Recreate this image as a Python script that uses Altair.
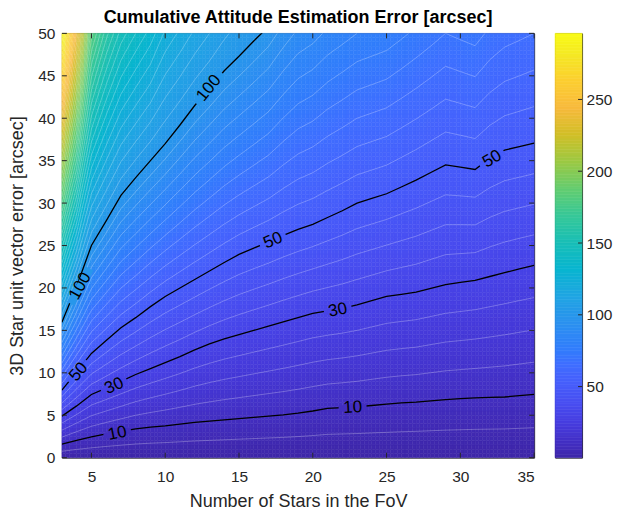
import altair as alt
import numpy as np
import pandas as pd

alt.data_transformers.disable_max_rows()

TITLE = "Cumulative Attitude Estimation Error [arcsec]"

# star counts on the x grid
N_STARS = list(range(3, 36))

# height (arcsec of vector error) of each black contour, read at every star count
Y10 = [1.6, 2.05, 2.45, 2.8, 3.1, 3.4, 3.6, 3.75, 3.95, 4.15, 4.3, 4.45, 4.6, 4.75, 4.9, 5.05, 5.25,
       5.5, 5.8, 5.9, 6.0, 6.15, 6.3, 6.45, 6.55, 6.7, 6.85, 6.95, 7.05, 7.1, 7.15, 7.3, 7.45]
Y30 = [4.9, 6.1, 7.45, 8.2, 9.0, 9.8, 10.5, 11.2, 11.9, 12.7, 13.4, 14.0, 14.5, 15.0, 15.5, 16.0, 16.5,
       17.0, 17.3, 17.6, 18.0, 18.5, 19.0, 19.25, 19.5, 19.95, 20.4, 20.65, 20.9, 21.35, 21.8, 22.25, 22.67]
Y50 = [7.96, 10.1, 12.28, 13.8, 15.3, 16.5, 17.8, 19.0, 20.0, 21.0, 22.0, 23.0, 23.95, 24.7, 25.4, 26.2, 26.9,
       27.5, 28.3, 29.1, 30.0, 30.55, 31.1, 31.9, 32.7, 33.6, 34.5, 34.25, 33.96, 35.3, 36.25, 36.65, 37.06]
Y100 = [15.96, 20.2, 25.0, 27.9, 30.9, 33.0, 35.0, 37.0, 39.2, 41.5, 43.5, 45.6, 47.3, 49.1, 50.8] + [None] * 18
# attitude error at the top edge (50 arcsec)
TOP_ERR = [296, 240, 182, 162, 148, 140, 133, 124, 119, 114, 110, 106, 103, 101, 98, 93, 89,
           87, 84, 82, 80, 79, 78, 76, 74, 72, 70, 71, 72, 69, 67, 66, 65]

# inline contour labels
LABEL_TEXT = ["10", "10", "30", "30", "50", "50", "50", "100", "100"]
LABEL_LEVEL = [10, 10, 30, 30, 50, 50, 50, 100, 100]
LABEL_N = [6.76, 22.7, 6.54, 21.7, 4.13, 17.3, 32.15, 4.24, 12.96]
LABEL_Y = [2.87, 5.9, 8.46, 17.4, 10.1, 25.6, 35.2, 20.2, 43.55]
LABEL_ANGLE = [349, 357, 336, 349, 311, 337, 330, 299, 309]

X_TICKS = [5, 10, 15, 20, 25, 30, 35]
Y_TICKS = list(range(0, 51, 5))
CB_TICKS = [50, 100, 150, 200, 250]

VMIN, VMAX = 0.5, 296.0

# parula (MATLAB) stops, index out of 64
PARULA_IDX = [0, 2, 4, 6, 8, 10, 12, 14, 16, 18, 20, 22, 24, 28, 32, 36, 40, 44, 48, 52, 56, 60, 63]
PARULA = ["#3e26a8", "#422ec0", "#4537d5", "#4741e5", "#484df0", "#4758f8", "#4563fd", "#3e6fff",
          "#327cfc", "#2e87f7", "#2b91ef", "#259be8", "#20a5e3", "#08b5d0", "#19bfb6", "#37c897",
          "#64cd6f", "#9dc943", "#d1bf27", "#f8ba3d", "#fccf30", "#f5e924", "#f9fb15"]
STOPS = [VMIN + k / 63 * (VMAX - VMIN) for k in PARULA_IDX]
COLOR_SCALE = alt.Scale(domain=STOPS, range=PARULA, interpolate="rgb", clamp=True)

FONT = "Liberation Sans"
INK = "#262626"
W, H = 473, 425


def column_profile(i):
    ys = [0.0, Y10[i], Y30[i], Y50[i]]
    vs = [VMIN, 10.0, 30.0, 50.0]
    if Y100[i] is not None and Y100[i] < 50:
        ys.append(Y100[i])
        vs.append(100.0)
    ys.append(50.0)
    vs.append(float(TOP_ERR[i]))
    return ys, vs


PROFILES = [column_profile(i) for i in range(len(N_STARS))]

# filled field, shaded between the read columns
X_STEP, Y_STEP = 0.25, 0.5
y_lo = np.arange(0, 50, Y_STEP)
col_vals = [np.interp(y_lo + Y_STEP / 2, ys, vs) for ys, vs in PROFILES]
cells = []
for x0 in np.arange(3, 35, X_STEP):
    xc = x0 + X_STEP / 2
    i = int(np.floor(xc)) - 3
    t = xc - np.floor(xc)
    v = (1 - t) * col_vals[i] + t * col_vals[i + 1]
    for y0, val in zip(y_lo, v):
        cells.append({"x0": float(x0), "x1": float(x0 + X_STEP), "y0": float(y0),
                      "y1": float(y0 + Y_STEP), "v": round(float(val), 2)})
cells = pd.DataFrame(cells)

# thin white contour lines every 5 arcsec
white_rows = []
seg = 0
for lev in range(5, 300, 5):
    if lev in (10, 30, 50, 100):
        continue
    inside_prev = None
    for i, n in enumerate(N_STARS):
        ys, vs = PROFILES[i]
        inside = vs[-1] >= lev
        if inside_prev is not None and inside != inside_prev:
            a, b = TOP_ERR[i - 1], TOP_ERR[i]
            n_edge = N_STARS[i - 1] + (a - lev) / (a - b)
            if inside:
                seg += 1
                white_rows.append({"n": n_edge, "y": 50.0, "seg": seg})
            else:
                white_rows.append({"n": n_edge, "y": 50.0, "seg": seg})
                seg += 1
        if inside:
            white_rows.append({"n": n, "y": float(np.interp(lev, vs, ys)), "seg": seg})
        inside_prev = inside
    seg += 1
white = pd.DataFrame(white_rows)

black_rows = []
for lev, arr in ((10, Y10), (30, Y30), (50, Y50), (100, Y100)):
    for n, y in zip(N_STARS, arr):
        if y is not None:
            black_rows.append({"n": n, "y": y, "level": lev})
black = pd.DataFrame(black_rows)

labels = pd.DataFrame({
    "text": LABEL_TEXT, "level": LABEL_LEVEL, "n": LABEL_N, "y": LABEL_Y, "angle": LABEL_ANGLE,
    "psize": [784 if len(t) == 2 else 1600 for t in LABEL_TEXT],
})

X_SCALE = alt.Scale(domain=[3, 35], nice=False, zero=False)
Y_SCALE = alt.Scale(domain=[0, 50], nice=False, zero=False)
X_AXIS = alt.Axis(title="Number of Stars in the FoV", values=X_TICKS, ticks=False, domain=False, grid=False,
                  labelFont=FONT, labelFontSize=15.5, labelColor=INK, labelPadding=12,
                  titleFont=FONT, titleFontSize=18, titleFontWeight="normal", titleColor=INK, titlePadding=7)
Y_AXIS = alt.Axis(title="3D Star unit vector error [arcsec]", values=Y_TICKS, ticks=False, domain=False,
                  grid=False, labelFont=FONT, labelFontSize=15.5, labelColor=INK, labelPadding=7,
                  titleFont=FONT, titleFontSize=18, titleFontWeight="normal", titleColor=INK, titlePadding=11)


def xq(field):
    return alt.X(field, scale=X_SCALE, axis=X_AXIS)


def yq(field):
    return alt.Y(field, scale=Y_SCALE, axis=Y_AXIS)


raster = alt.Chart(cells).mark_rect(strokeWidth=0.5).encode(
    x=xq("x0:Q"), x2="x1", y=yq("y0:Q"), y2="y1",
    color=alt.Color("v:Q", scale=COLOR_SCALE, legend=None),
    stroke=alt.Stroke("v:Q", scale=COLOR_SCALE, legend=None),
)

white_lines = alt.Chart(white).mark_line(color="white", strokeWidth=0.7, opacity=0.38, clip=True).encode(
    x=xq("n:Q"), y=yq("y:Q"), detail="seg:N", order="n:Q"
)

black_lines = alt.Chart(black).mark_line(color="black", strokeWidth=1.3, clip=True).encode(
    x=xq("n:Q"), y=yq("y:Q"), detail="level:N", order="n:Q"
)

patches = alt.Chart(labels).mark_point(
    shape="M-1,-0.2L1,-0.2L1,0.2L-1,0.2Z", filled=True, opacity=1, strokeWidth=0
).encode(
    x=xq("n:Q"), y=yq("y:Q"),
    color=alt.Color("level:Q", scale=COLOR_SCALE, legend=None),
    size=alt.Size("psize:Q", scale=None),
    angle=alt.Angle("angle:Q", scale=None),
)

label_text = alt.Chart(labels).mark_text(font=FONT, fontSize=17, color="black", align="center",
                                         baseline="middle").encode(
    x=xq("n:Q"), y=yq("y:Q"), text="text:N", angle=alt.Angle("angle:Q", scale=None)
)

xt = pd.DataFrame({"t": X_TICKS})
yt = pd.DataFrame({"t": Y_TICKS})
tick_style = dict(color=INK, strokeWidth=1)
ticks = [
    alt.Chart(xt).mark_rule(**tick_style).encode(x=xq("t:Q"), y=alt.value(H), y2=alt.value(H - 5)),
    alt.Chart(xt).mark_rule(**tick_style).encode(x=xq("t:Q"), y=alt.value(0), y2=alt.value(5)),
    alt.Chart(yt).mark_rule(**tick_style).encode(y=yq("t:Q"), x=alt.value(0), x2=alt.value(5)),
    alt.Chart(yt).mark_rule(**tick_style).encode(y=yq("t:Q"), x=alt.value(W), x2=alt.value(W - 5)),
]

title = alt.Chart(pd.DataFrame({"title": [TITLE]})).mark_text(
    font=FONT, fontSize=18, fontWeight="bold", color="black", align="center", baseline="alphabetic"
).encode(text="title:N", x=alt.value(W / 2), y=alt.value(-10))

main = alt.layer(raster, white_lines, black_lines, patches, label_text, *ticks, title).properties(
    width=W, height=H
)

# colorbar
edges = np.linspace(VMIN, VMAX, 151)
cb = pd.DataFrame({"lo": edges[:-1], "hi": edges[1:], "mid": (edges[:-1] + edges[1:]) / 2})
CB_SCALE = alt.Scale(domain=[VMIN, VMAX], nice=False, zero=False)
CB_AXIS = alt.Axis(orient="right", title=None, values=CB_TICKS, ticks=False, domain=False, grid=False,
                   labelFont=FONT, labelFontSize=15.5, labelColor=INK, labelPadding=4)
cb_rect = alt.Chart(cb).mark_rect(strokeWidth=0.6).encode(
    x=alt.value(0), x2=alt.value(27),
    y=alt.Y("lo:Q", scale=CB_SCALE, axis=CB_AXIS), y2="hi",
    color=alt.Color("mid:Q", scale=COLOR_SCALE, legend=None),
    stroke=alt.Stroke("mid:Q", scale=COLOR_SCALE, legend=None),
)
cb_ticks = alt.Chart(pd.DataFrame({"t": CB_TICKS})).mark_rule(**tick_style).encode(
    y=alt.Y("t:Q", scale=CB_SCALE, axis=CB_AXIS), x=alt.value(23), x2=alt.value(27)
)
cbar = alt.layer(cb_rect, cb_ticks).properties(width=27, height=H)

chart = (
    alt.hconcat(main, cbar, spacing=21, bounds="flush")
    .resolve_scale(x="independent", y="independent", color="independent", stroke="independent")
    .properties(padding={"left": 0, "top": 0, "right": 0, "bottom": 0})
    .configure_view(stroke=INK, strokeWidth=1)
)

chart.save("out.html", embed_options={"renderer": "svg", "actions": False})
